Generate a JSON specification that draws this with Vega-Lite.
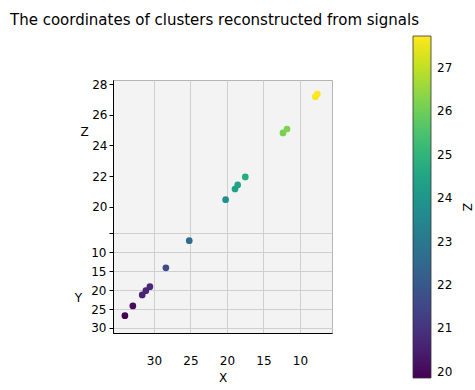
{
  "$schema": "https://vega.github.io/schema/vega-lite/v6.json",
  "width": 219,
  "height": 253,
  "autosize": "none",
  "padding": {"left": 113, "top": 80, "right": 143, "bottom": 57},
  "background": "white",
  "title": {
    "text": "The coordinates of clusters reconstructed from signals",
    "anchor": "start",
    "frame": "group",
    "dx": -103,
    "offset": -4,
    "baseline": "alphabetic",
    "font": "DejaVu Sans",
    "fontSize": 15,
    "fontWeight": "normal",
    "color": "black"
  },
  "config": {
    "font": "DejaVu Sans",
    "view": {"fill": "#f3f3f3", "stroke": "#b5b5b5", "strokeWidth": 1},
    "axis": {
      "labelFont": "DejaVu Sans",
      "labelFontSize": 12,
      "labelColor": "black",
      "titleFont": "DejaVu Sans",
      "titleFontSize": 12,
      "titleFontWeight": "normal",
      "titleColor": "black",
      "domainColor": "black",
      "tickColor": "black",
      "gridColor": "#cfcfcf",
      "gridWidth": 1,
      "labelOverlap": false
    }
  },
  "data": {
    "values": [
      {"X": 7.90, "Y": 2.66, "Z": 27.65},
      {"X": 7.63, "Y": 2.27, "Z": 27.73},
      {"X": 12.33, "Y": 5.98, "Z": 26.10},
      {"X": 11.78, "Y": 5.33, "Z": 26.20},
      {"X": 17.49, "Y": 11.94, "Z": 24.70},
      {"X": 18.53, "Y": 13.04, "Z": 24.45},
      {"X": 18.90, "Y": 13.70, "Z": 24.35},
      {"X": 20.18, "Y": 14.30, "Z": 23.80},
      {"X": 25.16, "Y": 20.27, "Z": 22.60},
      {"X": 28.36, "Y": 23.40, "Z": 21.60},
      {"X": 30.55, "Y": 24.74, "Z": 20.70},
      {"X": 31.10, "Y": 25.59, "Z": 20.65},
      {"X": 31.60, "Y": 26.52, "Z": 20.60},
      {"X": 32.88, "Y": 27.20, "Z": 20.05},
      {"X": 33.97, "Y": 29.00, "Z": 19.86}
    ]
  },
  "transform": [
    {"calculate": "datum.Z - (datum.Y - 0.8) * 0.2477", "as": "v"}
  ],
  "layer": [
    {
      "mark": {"type": "point", "opacity": 0},
      "encoding": {
        "x": {"field": "X", "type": "quantitative"},
        "y": {
          "field": "v",
          "type": "quantitative",
          "axis": {
            "orient": "left",
            "values": [18.25966, 17.02116, 15.78266, 14.54416, 13.30566, 12.06716],
            "labelExpr": "datum.value > 18 ? '' : format(0.8 + (19.3 - datum.value) / 0.2477, '.0f')",
            "title": "Y",
            "titleAngle": 0,
            "titleX": -35,
            "titleY": 217,
            "titleAlign": "center",
            "titleBaseline": "middle",
            "tickSize": 4,
            "labelPadding": 3
          }
        }
      }
    },
    {
      "mark": {"type": "point", "filled": true, "size": 45, "opacity": 1},
      "encoding": {
        "x": {
          "field": "X",
          "type": "quantitative",
          "scale": {"domain": [5.62, 35.6], "reverse": true, "zero": false, "nice": false},
          "axis": {
            "values": [10, 15, 20, 25, 30],
            "title": "X",
            "tickSize": 0,
            "labelPadding": 22,
            "titlePadding": 6,
            "labelFlush": false
          }
        },
        "y": {
          "field": "v",
          "type": "quantitative",
          "scale": {"domain": [11.74, 28.28], "zero": false, "nice": false},
          "axis": {
            "orient": "left",
            "values": [20, 22, 24, 26, 28],
            "title": "Z",
            "titleAngle": 0,
            "titleX": -29,
            "titleY": 51,
            "titleAlign": "center",
            "titleBaseline": "middle",
            "tickSize": 4,
            "labelPadding": 2
          }
        },
        "color": {
          "field": "Z",
          "type": "quantitative",
          "scale": {"scheme": "viridis", "domain": [19.86, 27.73], "nice": false, "zero": false},
          "legend": {
            "orient": "none",
            "legendX": 300,
            "legendY": -44,
            "direction": "vertical",
            "gradientLength": 342,
            "gradientThickness": 18,
            "gradientStrokeColor": "#333333",
            "gradientStrokeWidth": 0.8,
            "values": [20, 21, 22, 23, 24, 25, 26, 27],
            "labelFont": "DejaVu Sans",
            "labelFontSize": 12,
            "labelColor": "black",
            "labelOffset": 6,
            "labelOverlap": false,
            "title": "Z",
            "titleOrient": "right",
            "titleAngle": 90,
            "titleAnchor": "middle",
            "titleFont": "DejaVu Sans",
            "titleFontSize": 12,
            "titleFontWeight": "normal",
            "titleColor": "black",
            "titlePadding": 8,
            "padding": 0
          }
        }
      }
    }
  ],
  "resolve": {"axis": {"y": "independent"}}
}
